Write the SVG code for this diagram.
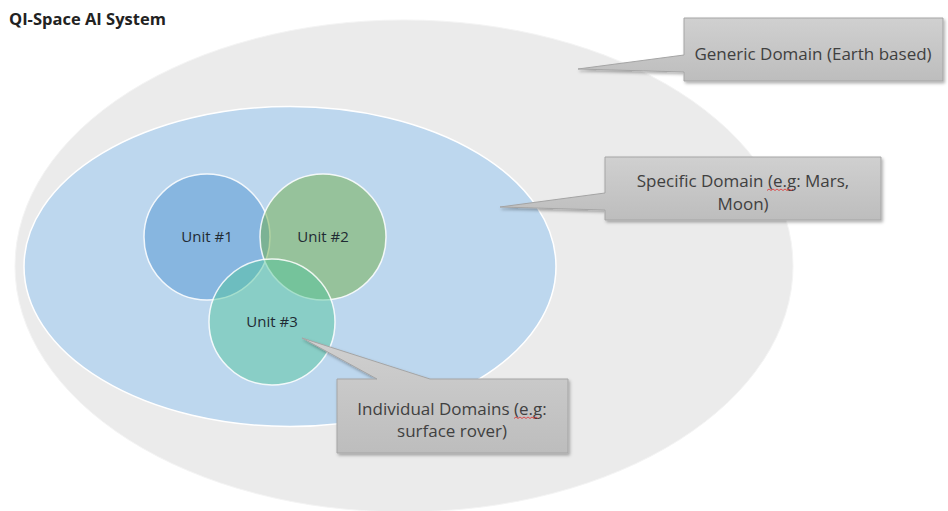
<svg xmlns="http://www.w3.org/2000/svg" width="948" height="511" viewBox="0 0 948 511">
<defs>
<linearGradient id="cg" x1="0" y1="0" x2="0" y2="1">
<stop offset="0" stop-color="#d0d0d0"/>
<stop offset="1" stop-color="#bdbdbd"/>
</linearGradient>
<filter id="sh" x="-10%" y="-10%" width="130%" height="140%">
<feDropShadow dx="1.5" dy="2" stdDeviation="1.5" flood-color="#000" flood-opacity="0.3"/>
</filter>
<style>
.title{font-family:"Open Sans","Liberation Sans",sans-serif;font-weight:bold;font-size:16.5px;fill:#222}
.unit{font-family:"Open Sans","Liberation Sans",sans-serif;font-size:15px;fill:#1f2a33;text-anchor:middle}
.ct{font-family:"Open Sans","Liberation Sans",sans-serif;font-size:17px;fill:#404040;text-anchor:middle}
.callout{fill:url(#cg);stroke:#a5a5a5;stroke-width:1;filter:url(#sh)}
.circ{stroke:#ffffff;stroke-width:1.5;stroke-opacity:0.85}
.sq{fill:none;stroke:#e03030;stroke-width:0.8}
</style>
</defs>
<rect width="948" height="511" fill="#ffffff"/>
<text class="title" x="9" y="25">QI-Space AI System</text>
<g id="generic-domain">
<ellipse cx="404" cy="266" rx="389" ry="246" fill="#ebebeb" stroke="#f4f4f4" stroke-width="1"/>
</g>
<g id="specific-domain">
<ellipse cx="290" cy="266.5" rx="266" ry="160" fill="#bdd7ee" stroke="#ffffff" stroke-width="1.5"/>
</g>
<g id="unit1">
<circle class="circ" cx="207" cy="237" r="63" fill="#5b9bd5" fill-opacity="0.55"/>
<text class="unit" x="207" y="242">Unit #1</text>
</g>
<g id="unit2">
<circle class="circ" cx="323" cy="237" r="63" fill="#70ad47" fill-opacity="0.5"/>
<text class="unit" x="323" y="242">Unit #2</text>
</g>
<g id="unit3">
<circle class="circ" cx="272" cy="322" r="63" fill="#52c49a" fill-opacity="0.48"/>
<text class="unit" x="272" y="327">Unit #3</text>
</g>
<g id="connectors"></g>
<g id="callout-generic">
<path class="callout" d="M684,18 H943 V81 H684 V72 L578,69 L684,55 Z"/>
<text class="ct" x="813" y="60">Generic Domain (Earth based)</text>
</g>
<g id="callout-specific">
<path class="callout" d="M605,157 H881 V220 H605 V210 L500,207 L605,193 Z"/>
<text class="ct" x="743" y="187">Specific Domain (e.g: Mars,</text>
<text class="ct" x="743" y="210">Moon)</text>
<path class="sq" d="M767,190.5 l2,-1.5 l2,1.5 l2,-1.5 l2,1.5 l2,-1.5 l2,1.5 l2,-1.5 l2,1.5 l2,-1.5 l2,1.5 l2,-1.5 l2,1.5 l2,-1.5"/>
</g>
<g id="callout-individual">
<path class="callout" d="M337,379 H377 L302,338 L430,379 H568 V453 H337 Z"/>
<text class="ct" x="452" y="415">Individual Domains (e.g:</text>
<text class="ct" x="452" y="437">surface rover)</text>
<path class="sq" d="M514,418.5 l2,-1.5 l2,1.5 l2,-1.5 l2,1.5 l2,-1.5 l2,1.5 l2,-1.5 l2,1.5 l2,-1.5 l2,1.5 l2,-1.5 l2,1.5"/>
</g>
</svg>
